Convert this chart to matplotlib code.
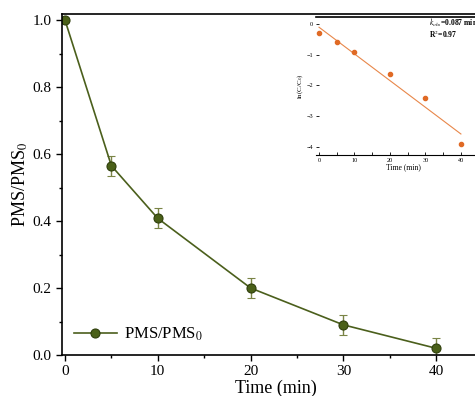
import numpy as np
import matplotlib
matplotlib.use("Agg")
import matplotlib.pyplot as plt
from matplotlib.lines import Line2D
from matplotlib.ticker import MultipleLocator

plt.rcParams["font.family"] = ["Liberation Serif", "DejaVu Serif"]
plt.rcParams["mathtext.fontset"] = "stix"

# main series
time_min = [0, 5, 10, 20, 30, 40]
pms_ratio = [1.0, 0.565, 0.408, 0.200, 0.090, 0.020]
pms_err = [0.0, 0.03, 0.03, 0.03, 0.03, 0.03]

# inset: ln(C/C0) vs time
ln_ratio = [-0.28, -0.59, -0.92, -1.63, -2.42, -3.92]

LINE_C = "#4b5f1c"
fig = plt.figure(figsize=(4.75, 3.96), dpi=100)
ax = fig.add_axes([62 / 475, 41 / 396, 428 / 475, 341 / 396])

mstyle = dict(marker="o", ms=6.5, mfc="#4a6018", mec="#2f3f0c", mew=0.8)
ax.errorbar(time_min, pms_ratio, yerr=pms_err, color=LINE_C, lw=1.2,
            ecolor="#7a8446", elinewidth=1.0, capsize=3, capthick=1.0, **mstyle)
ax.set_xlim(-0.32, 45.8)
ax.set_ylim(0, 1.018)
ax.xaxis.set_major_locator(MultipleLocator(10))
ax.xaxis.set_minor_locator(MultipleLocator(5))
ax.yaxis.set_major_locator(MultipleLocator(0.2))
ax.yaxis.set_minor_locator(MultipleLocator(0.1))
ax.yaxis.set_major_formatter(plt.FuncFormatter(lambda v, p: f"{v:.1f}"))
ax.tick_params(which="major", direction="out", length=4, width=1, labelsize=11)
ax.tick_params(which="minor", direction="out", length=2.5, width=1)
ax.set_xlabel("Time (min)", fontsize=13, labelpad=1)
ax.set_ylabel("PMS/PMS$_0$", fontsize=13, labelpad=2)
for s in ax.spines.values():
    s.set_linewidth(1.2)
handle = Line2D([], [], color=LINE_C, lw=1.2, **mstyle)
ax.legend([handle], ["PMS/PMS$_0$"], loc="lower left", frameon=False, fontsize=12,
          handlelength=2.6, borderaxespad=0.3, handletextpad=0.4)

# inset
ins = fig.add_axes([316 / 475, 241 / 396, 174 / 475, 138 / 396])
t = np.array(time_min)
k, b = np.polyfit(t, ln_ratio, 1)
ins.plot([0, 40], [b, b + 40 * k], color="#e8874a", lw=0.8)
ins.plot(time_min, ln_ratio, "o", color="#e06a25", ms=3)
ins.set_xlim(-0.85, 48.2)
ins.set_ylim(-4.27, 0.23)
ins.xaxis.set_major_locator(MultipleLocator(10))
ins.xaxis.set_minor_locator(MultipleLocator(5))
ins.yaxis.set_major_locator(MultipleLocator(1))
ins.tick_params(which="both", direction="in", length=2, width=0.6, labelsize=4.5, pad=2)
ins.set_xlabel("Time (min)", fontsize=5.5, labelpad=0)
ins.set_ylabel("ln(C/C$_0$)", fontsize=5, labelpad=1)
ins.spines["left"].set_visible(False)
ins.spines["right"].set_visible(False)
ins.spines["bottom"].set_linewidth(0.8)
ins.spines["top"].set_linewidth(1.2)
ins.text(31, 0.04, f"$k_{{obs}}$={-k:.3f} min$^{{-1}}$", fontsize=5.5,
         fontweight="bold", va="center")
ins.text(31, -0.33, "R$^2$=0.97", fontsize=5.5, fontweight="bold", va="center")

fig.savefig("out.png", dpi=100)
